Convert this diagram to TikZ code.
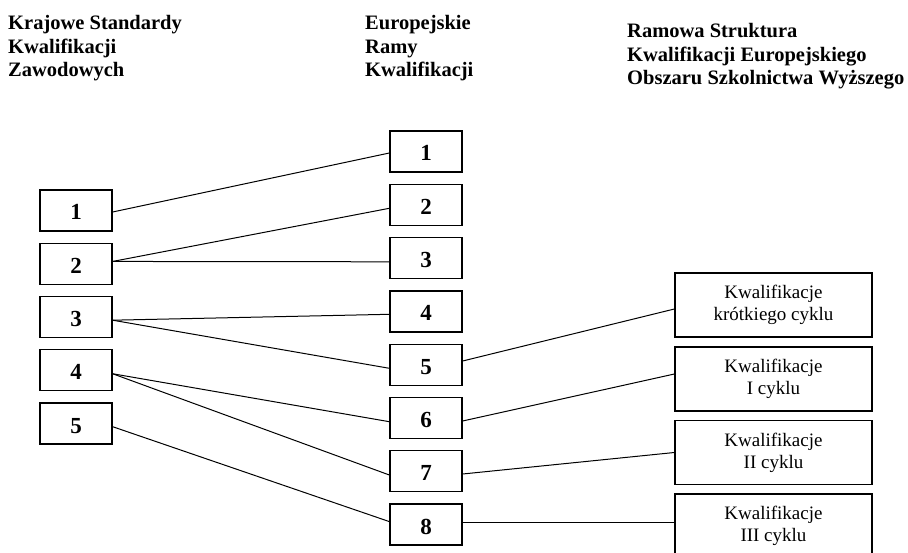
\documentclass[tikz,border=0pt]{standalone}
\usepackage{fontspec}
\setmainfont{Liberation Serif}
\begin{document}
\begin{tikzpicture}[x=1pt,y=-1pt,
  hdr/.style={anchor=base west,inner sep=0pt,font=\fontsize{20.5}{24}\selectfont\bfseries},
  numbox/.style={draw,line width=1.3pt,minimum width=72pt,minimum height=41pt,inner sep=0pt,text height=19pt,text depth=0pt,font=\fontsize{23}{26}\selectfont\bfseries},
  cycbox/.style={draw,line width=1.2pt,minimum width=197pt,minimum height=64pt,inner sep=0pt,align=center,font=\fontsize{19}{22}\selectfont},
  conn/.style={line width=1pt}]
\clip (0,0) rectangle (908,553);
\fill[white] (0,0) rectangle (908,553);
% headers
\node[hdr] (ha1) at (8,30) {Krajowe Standardy};
\node[hdr] (ha2) at (8,53.5) {Kwalifikacji};
\node[hdr] (ha3) at (8,77) {Zawodowych};
\node[hdr] (hb1) at (365,30) {Europejskie};
\node[hdr] (hb2) at (365,53.5) {Ramy};
\node[hdr] (hb3) at (365,77) {Kwalifikacji};
\node[hdr] (hc1) at (627,38) {Ramowa Struktura};
\node[hdr] (hc2) at (627,61.5) {Kwalifikacji Europejskiego};
\node[hdr] (hc3) at (627,85) {Obszaru Szkolnictwa Wyższego};
% left boxes
\foreach \i in {1,...,5}{
  \node[numbox] (l\i) at (76,{210.5+53.25*(\i-1)}) {\i};
}
% middle boxes
\foreach \i in {1,...,8}{
  \node[numbox] (m\i) at (426,{151.5+53.3*(\i-1)}) {\i};
}
% right boxes
\node[cycbox] (ra) at (773.5,305) {Kwalifikacje\\krótkiego cyklu};
\node[cycbox] (rb) at (773.5,379) {Kwalifikacje\\I cyklu};
\node[cycbox] (rc) at (773.5,452.5) {Kwalifikacje\\II cyklu};
\node[cycbox] (rd) at (773.5,526) {Kwalifikacje\\III cyklu};
% connectors
\draw[conn] ([yshift=-1.5pt]l1.east) -- ([yshift=-1.5pt]m1.west);
\draw[conn] ([yshift=2.3pt]l2.east) -- ([yshift=-3.5pt]m2.west);
\draw[conn] ([yshift=2.3pt]l2.east) -- ([yshift=-3.7pt]m3.west);
\draw[conn] ([yshift=-3.2pt]l3.east) -- ([yshift=-2.9pt]m4.west);
\draw[conn] ([yshift=-3.2pt]l3.east) -- ([yshift=-3.6pt]m5.west);
\draw[conn] ([yshift=-3.5pt]l4.east) -- ([yshift=-3.7pt]m6.west);
\draw[conn] ([yshift=-3.5pt]l4.east) -- ([yshift=-3.7pt]m7.west);
\draw[conn] ([yshift=-3.2pt]l5.east) -- ([yshift=3pt]m8.west);
\draw[conn] ([yshift=3.7pt]m5.east) -- ([yshift=-4pt]ra.west);
\draw[conn] ([yshift=-3pt]m6.east) -- ([yshift=5pt]rb.west);
\draw[conn] ([yshift=-2.7pt]m7.east) -- (rc.west);
\draw[conn] ([yshift=2.6pt]m8.east) -- ([yshift=4pt]rd.west);
\end{tikzpicture}
\end{document}
